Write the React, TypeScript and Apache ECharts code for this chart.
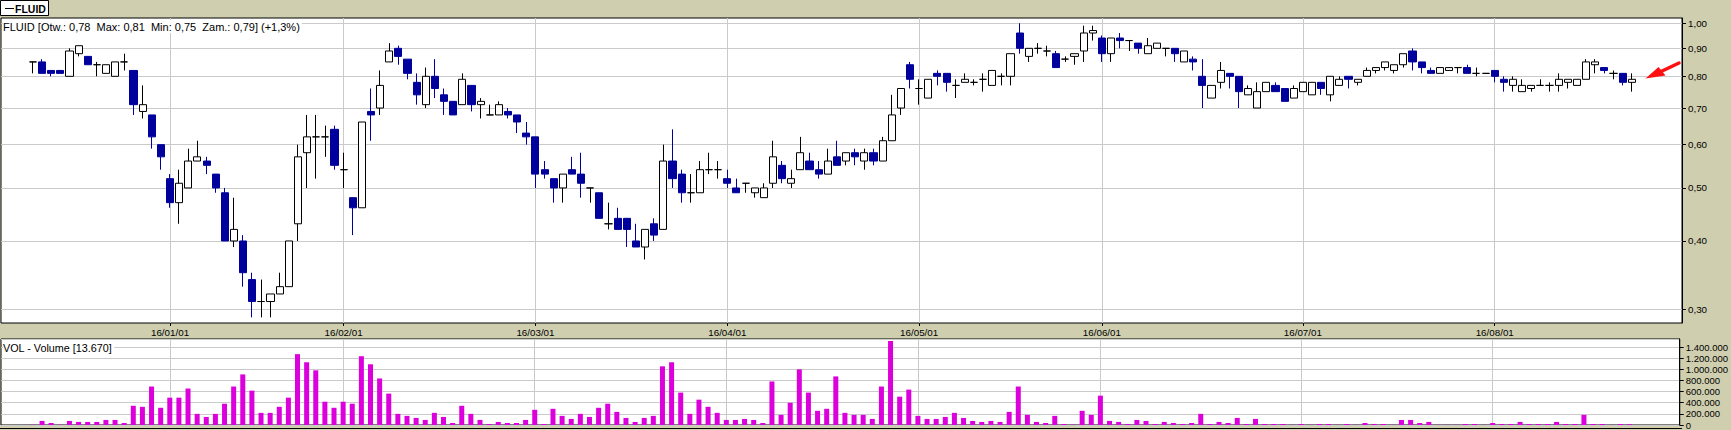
import React, { useEffect, useRef } from "react";
import * as echarts from "echarts";

// ---- trading days (day numbers per month) ----
const DEC_2015 = [8, 9, 10, 11, 14, 15, 16, 17, 18, 21, 22, 23, 28, 29, 30];
const JAN_2016 = [4, 5, 7, 8, 11, 12, 13, 14, 15, 18, 19, 20, 21, 22, 25, 26, 27, 28, 29];
const FEB_2016 = [1, 2, 3, 4, 5, 8, 9, 10, 11, 12, 15, 16, 17, 18, 19, 22, 23, 24, 25, 26, 29];
const MAR_2016 = [1, 2, 3, 4, 7, 8, 9, 10, 11, 14, 15, 16, 17, 18, 21, 22, 23, 24, 29, 30, 31];
const APR_2016 = [1, 4, 5, 6, 7, 8, 11, 12, 13, 14, 15, 18, 19, 20, 21, 22, 25, 26, 27, 28, 29];
const MAY_2016 = [2, 4, 5, 6, 9, 10, 11, 12, 13, 16, 17, 18, 19, 20, 23, 24, 25, 27, 30, 31];
const JUN_2016 = [1, 2, 3, 6, 7, 8, 9, 10, 13, 14, 15, 16, 17, 20, 21, 22, 23, 24, 27, 28, 29, 30];
const JUL_2016 = [1, 4, 5, 6, 7, 8, 11, 12, 13, 14, 15, 18, 19, 20, 21, 22, 25, 26, 27, 28, 29];
const AUG_2016 = [1, 2, 3, 4, 5, 8, 9, 10, 11, 12, 16, 17, 18, 19, 22, 23];

const MONTHS: [number, number, number[]][] = [
  [2015, 12, DEC_2015],
  [2016, 1, JAN_2016],
  [2016, 2, FEB_2016],
  [2016, 3, MAR_2016],
  [2016, 4, APR_2016],
  [2016, 5, MAY_2016],
  [2016, 6, JUN_2016],
  [2016, 7, JUL_2016],
  [2016, 8, AUG_2016],
];

// ---- candles: [open, high, low, close] ----
const CANDLES: number[][] = [
  [0.85, 0.85, 0.81, 0.85], [0.85, 0.86, 0.81, 0.81], [0.82, 0.82, 0.80, 0.81], [0.82, 0.82, 0.81, 0.81],
  [0.80, 0.90, 0.80, 0.89], [0.88, 0.91, 0.87, 0.91], [0.87, 0.87, 0.84, 0.84], [0.84, 0.85, 0.80, 0.84],
  [0.81, 0.84, 0.81, 0.84], [0.80, 0.85, 0.80, 0.85], [0.85, 0.88, 0.82, 0.85], [0.82, 0.82, 0.68, 0.71],
  [0.69, 0.77, 0.67, 0.71], [0.68, 0.68, 0.59, 0.62], [0.60, 0.60, 0.54, 0.57],
  // Jan
  [0.52, 0.53, 0.46, 0.47], [0.47, 0.54, 0.43, 0.51], [0.50, 0.59, 0.50, 0.56], [0.56, 0.61, 0.56, 0.57],
  [0.56, 0.57, 0.53, 0.55], [0.53, 0.53, 0.49, 0.50], [0.49, 0.50, 0.40, 0.40], [0.40, 0.48, 0.39, 0.42],
  [0.40, 0.41, 0.33, 0.35], [0.34, 0.35, 0.29, 0.31], [0.31, 0.34, 0.29, 0.31], [0.31, 0.32, 0.29, 0.32],
  [0.32, 0.35, 0.32, 0.33], [0.33, 0.40, 0.33, 0.40], [0.43, 0.60, 0.40, 0.57], [0.58, 0.68, 0.50, 0.62],
  [0.62, 0.68, 0.52, 0.62], [0.62, 0.65, 0.57, 0.62], [0.64, 0.65, 0.54, 0.55],
  // Feb
  [0.54, 0.58, 0.50, 0.54], [0.48, 0.48, 0.41, 0.46], [0.46, 0.66, 0.46, 0.66], [0.69, 0.76, 0.61, 0.68],
  [0.70, 0.82, 0.68, 0.77], [0.85, 0.92, 0.85, 0.89], [0.90, 0.91, 0.84, 0.87], [0.86, 0.86, 0.79, 0.81],
  [0.78, 0.81, 0.71, 0.74], [0.71, 0.83, 0.70, 0.80], [0.80, 0.86, 0.73, 0.76], [0.74, 0.76, 0.68, 0.72],
  [0.72, 0.72, 0.68, 0.68], [0.71, 0.81, 0.71, 0.79], [0.77, 0.77, 0.69, 0.71], [0.71, 0.73, 0.67, 0.72],
  [0.68, 0.71, 0.68, 0.68], [0.68, 0.72, 0.68, 0.71], [0.69, 0.70, 0.67, 0.68], [0.68, 0.68, 0.63, 0.66],
  [0.63, 0.66, 0.60, 0.62],
  // Mar
  [0.62, 0.62, 0.50, 0.53], [0.54, 0.56, 0.52, 0.53], [0.52, 0.52, 0.47, 0.50], [0.50, 0.53, 0.47, 0.53],
  [0.54, 0.57, 0.53, 0.53], [0.53, 0.58, 0.48, 0.51], [0.50, 0.50, 0.47, 0.50], [0.49, 0.49, 0.44, 0.44],
  [0.43, 0.47, 0.42, 0.43], [0.44, 0.46, 0.42, 0.42], [0.44, 0.44, 0.39, 0.42], [0.40, 0.43, 0.39, 0.39],
  [0.39, 0.42, 0.37, 0.42], [0.43, 0.44, 0.40, 0.41], [0.42, 0.60, 0.42, 0.56], [0.56, 0.64, 0.50, 0.52],
  [0.53, 0.54, 0.47, 0.49], [0.49, 0.53, 0.47, 0.49], [0.49, 0.56, 0.49, 0.54], [0.54, 0.58, 0.53, 0.54],
  [0.54, 0.56, 0.52, 0.54],
  // Apr
  [0.52, 0.54, 0.50, 0.51], [0.50, 0.52, 0.49, 0.49], [0.51, 0.51, 0.49, 0.51], [0.49, 0.50, 0.48, 0.50],
  [0.48, 0.51, 0.48, 0.50], [0.51, 0.61, 0.50, 0.57], [0.55, 0.56, 0.51, 0.52], [0.51, 0.54, 0.50, 0.52],
  [0.54, 0.62, 0.54, 0.58], [0.56, 0.58, 0.54, 0.54], [0.54, 0.56, 0.52, 0.53], [0.53, 0.59, 0.53, 0.56],
  [0.57, 0.61, 0.55, 0.55], [0.56, 0.58, 0.55, 0.58], [0.58, 0.59, 0.55, 0.57], [0.56, 0.59, 0.54, 0.58],
  [0.58, 0.59, 0.55, 0.56], [0.56, 0.62, 0.56, 0.61], [0.61, 0.74, 0.61, 0.68], [0.70, 0.76, 0.68, 0.76],
  [0.84, 0.85, 0.76, 0.79],
  // May
  [0.76, 0.79, 0.71, 0.76], [0.73, 0.79, 0.73, 0.79], [0.81, 0.82, 0.77, 0.80], [0.81, 0.81, 0.75, 0.78],
  [0.77, 0.79, 0.73, 0.77], [0.78, 0.81, 0.78, 0.79], [0.78, 0.79, 0.77, 0.78], [0.79, 0.81, 0.75, 0.79],
  [0.77, 0.82, 0.77, 0.82], [0.80, 0.81, 0.77, 0.80], [0.80, 0.88, 0.77, 0.88], [0.96, 1.00, 0.88, 0.90],
  [0.87, 0.90, 0.85, 0.90], [0.90, 0.92, 0.88, 0.90], [0.89, 0.91, 0.87, 0.89], [0.88, 0.89, 0.83, 0.83],
  [0.86, 0.87, 0.85, 0.86], [0.87, 0.88, 0.84, 0.88], [0.89, 0.99, 0.85, 0.96], [0.96, 0.99, 0.93, 0.97],
  // Jun
  [0.94, 0.95, 0.85, 0.88], [0.88, 0.94, 0.85, 0.94], [0.94, 0.96, 0.90, 0.93], [0.93, 0.93, 0.89, 0.93],
  [0.92, 0.92, 0.88, 0.90], [0.88, 0.94, 0.88, 0.91], [0.90, 0.92, 0.90, 0.92], [0.90, 0.90, 0.87, 0.90],
  [0.90, 0.90, 0.85, 0.88], [0.85, 0.89, 0.85, 0.89], [0.86, 0.87, 0.82, 0.85], [0.80, 0.86, 0.70, 0.77],
  [0.73, 0.77, 0.73, 0.77], [0.78, 0.85, 0.76, 0.82], [0.81, 0.81, 0.76, 0.80], [0.80, 0.80, 0.70, 0.75],
  [0.74, 0.77, 0.74, 0.76], [0.70, 0.78, 0.70, 0.75], [0.75, 0.78, 0.75, 0.78], [0.77, 0.78, 0.75, 0.75],
  [0.76, 0.76, 0.72, 0.72], [0.73, 0.77, 0.73, 0.76],
  // Jul
  [0.75, 0.78, 0.75, 0.78], [0.74, 0.78, 0.74, 0.78], [0.78, 0.78, 0.74, 0.76], [0.74, 0.80, 0.72, 0.80],
  [0.77, 0.80, 0.77, 0.79], [0.80, 0.80, 0.76, 0.79], [0.78, 0.79, 0.77, 0.79], [0.80, 0.83, 0.80, 0.82],
  [0.82, 0.83, 0.81, 0.83], [0.83, 0.85, 0.82, 0.85], [0.82, 0.84, 0.81, 0.84], [0.84, 0.88, 0.83, 0.88],
  [0.89, 0.90, 0.82, 0.85], [0.85, 0.85, 0.81, 0.83], [0.82, 0.83, 0.81, 0.81], [0.81, 0.83, 0.81, 0.83],
  [0.82, 0.83, 0.82, 0.83], [0.83, 0.83, 0.81, 0.83], [0.83, 0.84, 0.81, 0.81], [0.81, 0.83, 0.80, 0.81],
  [0.81, 0.81, 0.81, 0.81],
  // Aug
  [0.82, 0.82, 0.78, 0.80], [0.79, 0.80, 0.75, 0.78], [0.77, 0.80, 0.75, 0.79], [0.75, 0.79, 0.75, 0.77],
  [0.76, 0.77, 0.75, 0.77], [0.77, 0.79, 0.77, 0.77], [0.77, 0.78, 0.75, 0.77], [0.77, 0.81, 0.75, 0.79],
  [0.78, 0.79, 0.76, 0.79], [0.77, 0.79, 0.77, 0.79], [0.79, 0.86, 0.79, 0.85], [0.84, 0.86, 0.81, 0.85],
  [0.83, 0.83, 0.81, 0.82], [0.81, 0.82, 0.79, 0.81], [0.81, 0.81, 0.77, 0.78], [0.78, 0.81, 0.75, 0.79],
];

const VOLUME: number[] = [
  5000, 73000, 36000, 5000, 73000, 55000, 55000, 55000, 91000, 91000, 36000, 345000, 327000, 691000, 309000,
  // Jan
  491000, 491000, 655000, 200000, 145000, 200000, 382000, 691000, 909000, 618000, 218000, 218000, 327000,
  491000, 1273000, 1127000, 982000, 418000, 309000,
  // Feb
  418000, 382000, 1236000, 1091000, 836000, 564000, 200000, 164000, 127000, 91000, 218000, 145000, 36000,
  345000, 200000, 91000, 18000, 55000, 36000, 36000, 91000,
  // Mar
  273000, 18000, 291000, 164000, 109000, 200000, 145000, 309000, 382000, 236000, 127000, 55000, 127000,
  164000, 1054000, 1127000, 582000, 200000, 455000, 327000, 218000,
  // Apr
  91000, 91000, 109000, 91000, 36000, 782000, 182000, 400000, 1000000, 582000, 255000, 291000, 873000,
  218000, 182000, 182000, 109000, 691000, 1509000, 509000, 636000,
  // May
  164000, 109000, 109000, 145000, 218000, 127000, 73000, 55000, 73000, 55000, 236000, 691000, 182000,
  55000, 36000, 164000, 18000, 5000, 255000, 182000,
  // Jun
  527000, 73000, 55000, 18000, 91000, 73000, 18000, 55000, 36000, 18000, 36000, 200000, 18000, 55000,
  36000, 127000, 18000, 109000, 18000, 18000, 18000, 3000,
  // Jul
  18000, 3000, 18000, 18000, 3000, 18000, 3000, 36000, 18000, 18000, 3000, 91000, 91000, 36000, 55000,
  3000, 3000, 3000, 18000, 18000, 3000,
  // Aug
  36000, 18000, 18000, 55000, 18000, 18000, 18000, 55000, 18000, 18000, 182000, 18000, 18000, 3000,
  18000, 13670,
];

const PRICE_TICKS = [0.3, 0.4, 0.5, 0.6, 0.7, 0.8, 0.9, 1.0];
const VOLUME_STEP = 200000;
const VOLUME_LABEL_MAX = 1400000;

const TAB_TITLE = "FLUID";
const HEADER_TEXT = "FLUID [Otw.: 0,78  Max: 0,81  Min: 0,75  Zam.: 0,79] (+1,3%)";
const VOLUME_TITLE = "VOL - Volume [13.670]";

const LEAD_PAD = 3;
const TAIL_PAD = 5;

const FONT = "'Liberation Sans', Arial, sans-serif";
const BG = "#CFCFB0";
const GRID_LINE = "#CACACA";
const DOWN = "#00009C";
const VOL_COLOR = "#DC00DC";

const pad2 = (n: number) => (n < 10 ? "0" + n : String(n));

export default function App() {
  const ref = useRef<HTMLDivElement>(null);

  useEffect(() => {
    if (!ref.current) return;
    const chart = echarts.init(ref.current, null, { renderer: "svg" });

    const dates: string[] = [];
    const monthStarts: string[] = [];
    MONTHS.forEach(([y, m, days], mi) => {
      days.forEach((d, di) => {
        const s = `${y}-${pad2(m)}-${pad2(d)}`;
        dates.push(s);
        if (di === 0 && mi > 0) monthStarts.push(s);
      });
    });
    const startSet = new Set(monthStarts);

    const lead = Array.from({ length: LEAD_PAD }, (_, i) => "lead" + i);
    const tail = Array.from({ length: TAIL_PAD }, (_, i) => "tail" + i);
    const categories = [...lead, ...dates, ...tail];

    const empty4 = ["-", "-", "-", "-"];
    const candleData = [
      ...lead.map(() => empty4),
      ...CANDLES.map(([o, h, l, c]) => [o, c, l, h]),
      ...tail.map(() => empty4),
    ];
    const volData = [...lead.map(() => "-"), ...VOLUME, ...tail.map(() => "-")];

    const isStart = (_i: number, v: string) => startSet.has(v);
    const monthLine = {
      silent: true,
      symbol: ["none", "none"],
      z: 1,
      label: { show: false },
      lineStyle: { color: GRID_LINE, type: "solid", width: 1 },
      emphasis: { disabled: true },
      data: monthStarts.map((d) => ({ xAxis: d })),
      animation: false,
    };

    const fmtVol = (v: number) => String(Math.round(v)).replace(/\B(?=(\d{3})+(?!\d))/g, ".");

    const option: any = {
      animation: false,
      backgroundColor: BG,
      textStyle: { fontFamily: FONT },
      grid: [
        {
          left: 1, right: 49, top: 18, height: 305, show: true,
          backgroundColor: "#ffffff", borderColor: "#000000", borderWidth: 1,
        },
        {
          left: 1, right: 49, top: 339, height: 86, show: true,
          backgroundColor: "#ffffff", borderColor: "#000000", borderWidth: 1,
        },
      ],
      xAxis: [
        {
          type: "category", gridIndex: 0, data: categories, boundaryGap: true,
          axisLine: { show: false },
          axisTick: { show: true, interval: isStart, alignWithLabel: true, length: 3, lineStyle: { color: "#000" } },
          axisLabel: {
            interval: isStart, margin: 4, fontSize: 9.8, color: "#000", fontFamily: FONT,
            formatter: (v: string) => `${v.slice(2, 4)}/${v.slice(5, 7)}/01`,
          },
          splitLine: { show: false },
        },
        {
          type: "category", gridIndex: 1, data: categories, boundaryGap: true,
          axisLine: { show: false }, axisTick: { show: false }, axisLabel: { show: false },
          splitLine: { show: false },
        },
      ],
      yAxis: [
        {
          type: "log", gridIndex: 0, position: "right", logBase: 10,
          min: 0.2832, max: 1.0226,
          axisLine: { show: true, lineStyle: { color: "#000" } },
          axisTick: { show: true, customValues: PRICE_TICKS, length: 4, lineStyle: { color: "#000" } },
          axisLabel: {
            customValues: PRICE_TICKS, margin: 6, fontSize: 9.8, color: "#000", fontFamily: FONT,
            formatter: (v: number) => v.toFixed(2).replace(".", ","),
          },
          splitLine: { show: true, lineStyle: { color: GRID_LINE, width: 1 } },
        },
        {
          type: "value", gridIndex: 1, position: "right",
          min: 0, max: 1545000, interval: VOLUME_STEP,
          axisLine: { show: true, lineStyle: { color: "#000" } },
          axisTick: { show: true, length: 4, lineStyle: { color: "#000" } },
          axisLabel: {
            margin: 6, fontSize: 9.5, color: "#000", fontFamily: FONT, showMaxLabel: false,
            formatter: (v: number) =>
              v % VOLUME_STEP === 0 && v <= VOLUME_LABEL_MAX ? fmtVol(v) : "",
          },
          splitLine: { show: true, lineStyle: { color: GRID_LINE, width: 1 } },
        },
      ],
      series: [
        {
          type: "candlestick", xAxisIndex: 0, yAxisIndex: 0, data: candleData,
          barWidth: 7.6, z: 2,
          itemStyle: {
            color: "#ffffff", color0: DOWN,
            borderColor: "#000000", borderColor0: DOWN, borderColorDoji: "#000000",
            borderWidth: 1,
          },
          emphasis: { disabled: true },
          markLine: monthLine,
        },
        {
          type: "bar", xAxisIndex: 1, yAxisIndex: 1, data: volData,
          barWidth: 5, itemStyle: { color: VOL_COLOR }, z: 2,
          emphasis: { disabled: true },
          markLine: monthLine,
        },
      ],
      graphic: [
        {
          type: "rect", z: 100,
          shape: { x: 0.5, y: 0.5, width: 48, height: 15 },
          style: { fill: "#ffffff", stroke: "#000000", lineWidth: 1 },
        },
        {
          type: "line", z: 101,
          shape: { x1: 5, y1: 8.5, x2: 14, y2: 8.5 },
          style: { stroke: "#000000", lineWidth: 1 },
        },
        {
          type: "text", z: 101, x: 15, y: 8.5,
          style: {
            text: TAB_TITLE, fill: "#000", font: `bold 10.5px ${FONT}`,
            textVerticalAlign: "middle", verticalAlign: "middle",
          },
        },
        {
          type: "text", z: 100, x: 3, y: 26.5,
          style: {
            text: HEADER_TEXT, fill: "#000", font: `11px ${FONT}`,
            verticalAlign: "middle", textVerticalAlign: "middle",
            backgroundColor: "#ffffff", padding: [1, 2, 1, 0],
          },
        },
        {
          type: "text", z: 100, x: 3, y: 347.5,
          style: {
            text: VOLUME_TITLE, fill: "#000", font: `10.8px ${FONT}`,
            verticalAlign: "middle", textVerticalAlign: "middle",
            backgroundColor: "#ffffff", padding: [1, 2, 1, 0],
          },
        },
        {
          type: "line", z: 100,
          shape: { x1: 0, y1: 428.5, x2: 1682, y2: 428.5 },
          style: { stroke: "#000000", lineWidth: 1 },
        },
        {
          type: "polygon", z: 100,
          shape: { points: [[1645.5, 78.5], [1658.5, 67], [1665.5, 75.5]] },
          style: { fill: "#FF1010" },
        },
        {
          type: "line", z: 100,
          shape: { x1: 1660, y1: 72, x2: 1679, y2: 63 },
          style: { stroke: "#FF1010", lineWidth: 3.5, lineCap: "round" },
        },
      ],
    };

    chart.setOption(option);
    return () => chart.dispose();
  }, []);

  return (
    <div
      ref={ref}
      style={{ position: "fixed", left: 0, top: 0, width: 1731, height: 430 }}
    />
  );
}
